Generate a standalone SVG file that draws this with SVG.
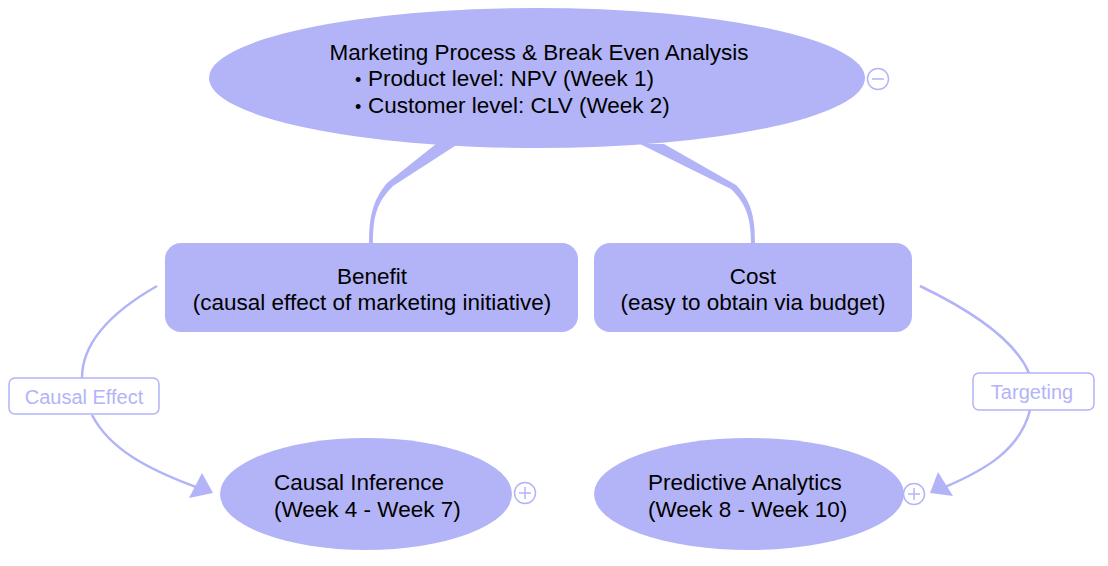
<svg xmlns="http://www.w3.org/2000/svg" width="1108" height="566" viewBox="0 0 1108 566">
<defs>
<style>
.node{fill:#B3B4F7;}
.t{font-family:"Liberation Sans",Arial,sans-serif;font-size:22.5px;fill:#000;}
.b{font-size:18px;}
.lbl{font-family:"Liberation Sans",Arial,sans-serif;font-size:20px;fill:#B3B4F7;}
.lblbox{fill:#fff;stroke:#B3B4F7;stroke-width:1.5;}
.edge{fill:none;stroke:#B3B4F7;stroke-width:2.5;}
.taper{fill:#B3B4F7;}
.tog{fill:#fff;stroke:#B3B4F7;stroke-width:1.5;}
.togl{stroke:#B3B4F7;stroke-width:1.5;}
.ah{fill:#B3B4F7;}
</style>
</defs>
<rect width="1108" height="566" fill="#fff"/>
<g id="connectors">
<path class="taper" d="M436 144 L387 183 C374 199 369 214 369 243 L373 243 C373 216 377 202 393 186 L458 144 Z"/>
<path class="taper" d="M640 144 L731 189 C745 203 751 216 751 243 L755 243 C755 214 750 200 736 185 L664 144 Z"/>
<path class="edge" d="M157 286 C115 310 82 340 82 378"/>
<path class="edge" d="M92 415 C110 450 150 470 196 487"/>
<polygon class="ah" points="213,493 202,473 189,498"/>
<path class="edge" d="M920 286 C970 310 1015 340 1029 373"/>
<path class="edge" d="M1030 410 C1020 450 985 470 945 487"/>
<polygon class="ah" points="930,493 938,472 953,496"/>
<g id="label-causal-effect">
<rect class="lblbox" x="9" y="378" width="150" height="36" rx="6"/>
<text class="lbl" x="84" y="403.500" text-anchor="middle">Causal Effect</text>
</g>
<g id="label-targeting">
<rect class="lblbox" x="973" y="373" width="121" height="37" rx="6"/>
<text class="lbl" x="1032" y="398.500" text-anchor="middle">Targeting</text>
</g>
</g>
<g id="root">
<ellipse class="node" cx="537" cy="78" rx="328" ry="70"/>
<text class="t" x="539" y="60" text-anchor="middle">Marketing Process &amp; Break Even Analysis</text>
<text class="t" y="86"><tspan class="b" x="355">•</tspan><tspan x="368">Product level: NPV (Week 1)</tspan></text>
<text class="t" y="113"><tspan class="b" x="355">•</tspan><tspan x="368">Customer level: CLV (Week 2)</tspan></text>
<circle class="tog" cx="878" cy="79" r="10.500"/>
<line class="togl" x1="872" y1="79" x2="884" y2="79"/>
</g>
<g id="benefit">
<rect class="node" x="165" y="243" width="413" height="89" rx="16"/>
<text class="t" x="372" y="284" text-anchor="middle">Benefit</text>
<text class="t" x="372" y="310" text-anchor="middle">(causal effect of marketing initiative)</text>
</g>
<g id="cost">
<rect class="node" x="594" y="243" width="318" height="89" rx="16"/>
<text class="t" x="753" y="284" text-anchor="middle">Cost</text>
<text class="t" x="753" y="310" text-anchor="middle">(easy to obtain via budget)</text>
</g>
<g id="causal-inference">
<ellipse class="node" cx="366" cy="494" rx="146" ry="56"/>
<text class="t" x="274" y="490">Causal Inference</text>
<text class="t" x="274" y="517">(Week 4 - Week 7)</text>
<circle class="tog" cx="525" cy="493" r="10.500"/>
<line class="togl" x1="519" y1="493" x2="531" y2="493"/>
<line class="togl" x1="525" y1="487" x2="525" y2="499"/>
</g>
<g id="predictive-analytics">
<ellipse class="node" cx="749" cy="494" rx="155" ry="56"/>
<text class="t" x="648" y="490">Predictive Analytics</text>
<text class="t" x="648" y="517">(Week 8 - Week 10)</text>
<circle class="tog" cx="914" cy="494" r="10.500"/>
<line class="togl" x1="908" y1="494" x2="920" y2="494"/>
<line class="togl" x1="914" y1="488" x2="914" y2="500"/>
</g>
</svg>
